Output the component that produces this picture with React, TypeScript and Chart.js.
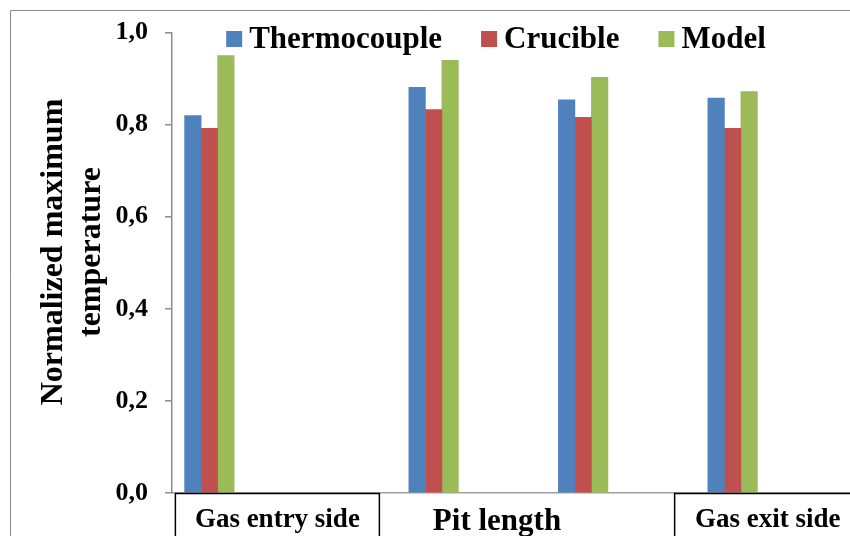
import React, { useEffect, useRef } from "react";
import { Chart, registerables } from "chart.js";

Chart.register(...registerables);

const seriesNames = ["Thermocouple", "Crucible", "Model"];
const seriesColors = ["#4F81BD", "#C0504D", "#9BBB59"];
const positions = [0, 3, 5, 7];
const thermocouple = [0.82, 0.881, 0.854, 0.858];
const crucible = [0.792, 0.833, 0.816, 0.792];
const model = [0.95, 0.94, 0.903, 0.872];
const yTicks = [0, 0.2, 0.4, 0.6, 0.8, 1.0];
const yTitle = ["Normalized maximum", "temperature"];
const xTitle = "Pit length";
const entryLabel = "Gas entry side";
const exitLabel = "Gas exit side";

const SERIF = "'Liberation Serif', 'Times New Roman', serif";

const decorPlugin = {
  id: "decor",
  afterDraw(chart: any) {
    const ctx = chart.ctx as CanvasRenderingContext2D;
    const area = chart.chartArea;
    const xs = chart.scales.x;
    ctx.save();
    // outer frame
    ctx.strokeStyle = "#8c8c8c";
    ctx.lineWidth = 1;
    ctx.beginPath();
    ctx.moveTo(10.5, chart.height);
    ctx.lineTo(10.5, 10.5);
    ctx.lineTo(chart.width, 10.5);
    ctx.stroke();

    // legend
    ctx.font = `bold 31px ${SERIF}`;
    ctx.textBaseline = "alphabetic";
    ctx.textAlign = "left";
    const box = 16;
    const gapText = 7;
    const gapItem = 39;
    const widths = seriesNames.map((n) => ctx.measureText(n).width);
    const total =
      widths.reduce((a, b) => a + b, 0) + seriesNames.length * (box + gapText) + (seriesNames.length - 1) * gapItem;
    let lx = 496 - total / 2;
    seriesNames.forEach((n, i) => {
      ctx.fillStyle = seriesColors[i];
      ctx.fillRect(lx, 31, box, box);
      ctx.fillStyle = "#000";
      ctx.fillText(n, lx + box + gapText, 48);
      lx += box + gapText + widths[i] + gapItem;
    });

    // y title
    ctx.save();
    ctx.translate(0, 0);
    ctx.font = `bold 32px ${SERIF}`;
    ctx.textAlign = "center";
    ctx.textBaseline = "middle";
    const cy = 252;
    const lineXs = [54, 92];
    yTitle.forEach((t, i) => {
      ctx.save();
      ctx.translate(lineXs[i], cy);
      ctx.rotate(-Math.PI / 2);
      ctx.fillStyle = "#000";
      ctx.fillText(t, 0, 0);
      ctx.restore();
    });
    ctx.restore();

    // boxes under the axis
    const bottom = area.bottom;
    ctx.strokeStyle = "#000";
    ctx.lineWidth = 1.5;
    const entryL = xs.getPixelForValue(positions[0]) - 34;
    const entryR = entryL + 204;
    ctx.strokeRect(entryL, bottom + 0.5, entryR - entryL, 60);
    const exitL = xs.getPixelForValue(positions[3]) - 58;
    ctx.strokeRect(exitL, bottom + 0.5, 186, 60);

    ctx.fillStyle = "#000";
    ctx.textAlign = "center";
    ctx.textBaseline = "alphabetic";
    ctx.font = `bold 27px ${SERIF}`;
    ctx.fillText(entryLabel, (entryL + entryR) / 2, 527);
    ctx.fillText(exitLabel, exitL + 93, 527);
    ctx.font = `bold 31px ${SERIF}`;
    ctx.fillText(xTitle, 497, 530);
    ctx.restore();
  },
};

export default function App() {
  const ref = useRef<HTMLCanvasElement | null>(null);
  useEffect(() => {
    if (!ref.current) return;
    const mk = (vals: number[]) => positions.map((p, i) => ({ x: p, y: vals[i] }));
    const chart = new Chart(ref.current, {
      type: "bar",
      data: {
        datasets: [
          { label: seriesNames[0], data: mk(thermocouple), backgroundColor: seriesColors[0] },
          { label: seriesNames[1], data: mk(crucible), backgroundColor: seriesColors[1] },
          { label: seriesNames[2], data: mk(model), backgroundColor: seriesColors[2] },
        ],
      },
      options: {
        responsive: false,
        animation: false,
        devicePixelRatio: 1,
        layout: { padding: { left: 8, top: 31, right: 0, bottom: 0 } },
        datasets: { bar: { barThickness: 16.5, grouped: true } } as any,
        plugins: { legend: { display: false }, tooltip: { enabled: false } },
        scales: {
          x: {
            type: "linear",
            min: -0.5,
            max: 8.57,
            offset: false,
            grid: { display: false },
            border: { display: true, color: "#a0a0a0", width: 1.5 },
            ticks: { display: false },
            afterFit: (s: any) => {
              s.height = 43;
            },
          },
          y: {
            min: 0,
            max: 1,
            afterBuildTicks: (s: any) => {
              s.ticks = yTicks.map((v) => ({ value: v }));
            },
            grid: { drawOnChartArea: false, drawTicks: true, tickLength: 7, color: "#8c8c8c", lineWidth: 1.5 },
            border: { display: true, color: "#8c8c8c", width: 1.5 },
            ticks: {
              padding: 17,
              color: "#000",
              font: { family: SERIF, size: 26, weight: "bold" },
              callback: (v: any) => Number(v).toFixed(1).replace(".", ","),
            },
            afterFit: (s: any) => {
              s.width = 164;
            },
          },
        },
      },
      plugins: [decorPlugin],
    } as any);
    return () => chart.destroy();
  }, []);
  return (
    <div style={{ position: "fixed", left: 0, top: 0, width: 850, height: 536, background: "#fff", overflow: "hidden" }}>
      <canvas ref={ref} width={850} height={536} style={{ width: 850, height: 536, display: "block" }} />
    </div>
  );
}
